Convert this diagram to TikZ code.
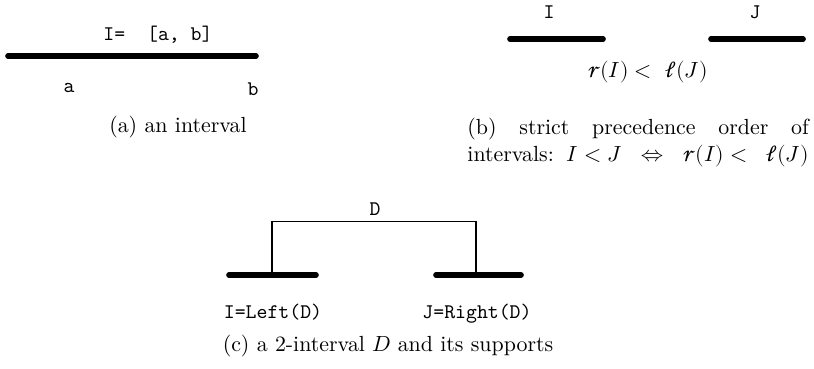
\documentclass[tikz,border=0pt]{standalone}
\usepackage{fontspec}
\usepackage{unicode-math}
\setmathfont{Latin Modern Math}
\setmathfont{STIX Two Math}[range={scr}]
\begin{document}
\begin{tikzpicture}[x=0.457pt,y=-0.457pt,
  interval/.style={line width=2.6pt,line cap=round},
  bracket/.style={line width=0.5pt},
  ttlab/.style={font=\ttfamily\fontsize{9.5pt}{11pt}\selectfont,inner sep=0pt},
  captxt/.style={font=\fontsize{10pt}{12pt}\selectfont,inner sep=0pt}]
\useasboundingbox (0,0) rectangle (814,368);
% (a)
\coordinate (a1) at (8,56);
\coordinate (a2) at (256,56);
\draw[interval] (a1) -- (a2);
\node[ttlab,anchor=base] (aI) at (158,40) {I=\ \ [a,\ b]};
\node[ttlab,anchor=base] (aa) at (69,92) {a};
\node[ttlab,anchor=base] (ab) at (253,95) {b};
\node[captxt] (capa) at (178,127) {(a) an interval};
% (b)
\coordinate (b1) at (510,39);
\coordinate (b2) at (603,39);
\coordinate (b3) at (711,39);
\coordinate (b4) at (803,39);
\draw[interval] (b1) -- (b2);
\draw[interval] (b3) -- (b4);
\node[ttlab] (bI) at (549,12) {I};
\node[ttlab] (bJ) at (755,12) {J};
\node[captxt] (brel) at (648,72) {$\mathscr{r}(I) <\ \mathscr{l}(J)$};
\node[captxt,anchor=north west,align=left] (capb) at (467,118)
  {\makebox[156pt][s]{(b) strict precedence order of}\\
   \thickmuskip=5mu\hbox to 156pt{intervals:\hskip 3.33pt plus 0.6fil$I < J\hskip 2pt plus 1fil\Leftrightarrow\hskip 2pt plus 1fil\mathscr{r}(I) <\hskip 3.33pt plus 0.6fil\mathscr{l}(J)$}};
% (c)
\coordinate (c1) at (229,275);
\coordinate (c2) at (316,275);
\coordinate (c3) at (436,275);
\coordinate (c4) at (521,275);
\coordinate (lt) at (272,221.5);
\coordinate (rt) at (476,221.5);
\coordinate (lb) at (272,275);
\coordinate (rb) at (476,275);
\draw[interval] (c1) -- (c2);
\draw[interval] (c3) -- (c4);
\draw[bracket] (lb) -- (lt) -- (rt) -- (rb);
\node[ttlab] (cD) at (375,209) {D};
\node[ttlab,anchor=base] (cI) at (273,318) {I=Left(D)};
\node[ttlab,anchor=base] (cJ) at (477,318) {J=Right(D)};
\node[captxt] (capc) at (388,346) {(c) a 2-interval $D$ and its supports};
\end{tikzpicture}
\end{document}
